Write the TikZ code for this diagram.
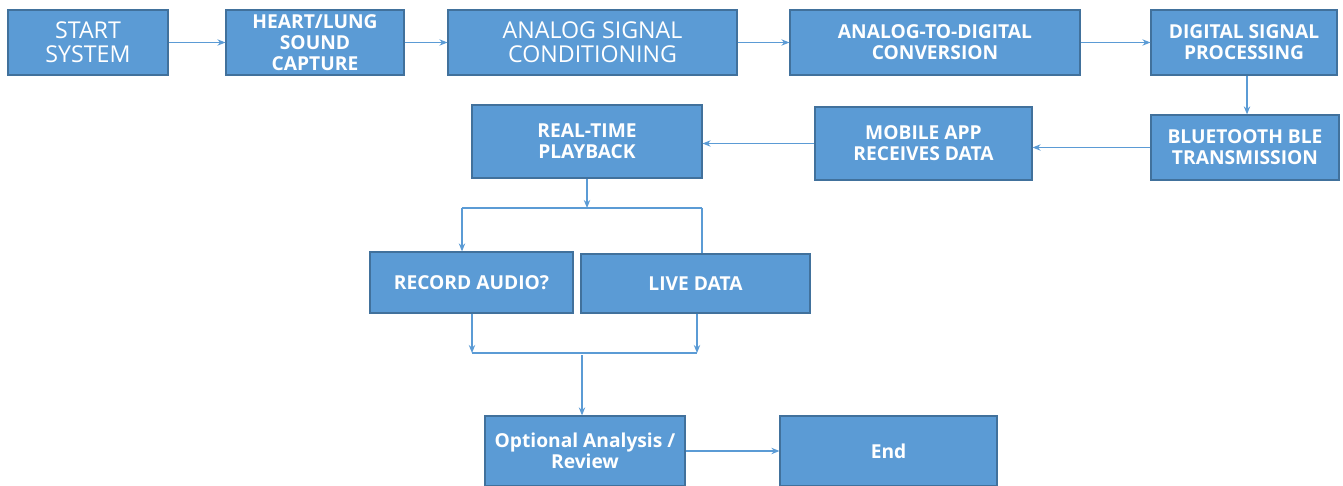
\documentclass[tikz,border=0pt]{standalone}
\usepackage{fontspec}
\setmainfont{Open Sans}
\usetikzlibrary{arrows.meta}
\definecolor{boxblue}{HTML}{5B9BD5}
\definecolor{edgeblue}{HTML}{41719C}

\begin{document}
\begin{tikzpicture}[x=0.5pt, y=-0.5pt,
  box/.style={draw=edgeblue, line width=0.6pt, fill=boxblue, text=white,
    align=center, inner sep=1pt, minimum height=32.5pt},
  lightbox/.style={box, font=\fontsize{11.6}{12.2}\selectfont},
  boldbox/.style={box, font=\fontsize{9.6}{10.6}\selectfont\bfseries},
  link/.style={draw=boxblue, line width=0.6pt},
  arrow/.style={link, -{Stealth[length=4pt, width=3.2pt]}}]
  \useasboundingbox (0,0) rectangle (1343,486);

  \node[lightbox, minimum width=80pt] (start) at (88,42.5) {START\\SYSTEM};
  \node[boldbox, minimum width=89pt] (capture) at (315,42.5) {HEART/LUNG\\SOUND\\CAPTURE};
  \node[lightbox, minimum width=144.5pt] (cond) at (592.5,42.5) {ANALOG SIGNAL\\CONDITIONING};
  \node[boldbox, minimum width=145pt] (adc) at (935,42.5) {ANALOG-TO-DIGITAL\\CONVERSION};
  \node[boldbox, minimum width=93pt] (dsp) at (1244,42.5) {DIGITAL SIGNAL\\PROCESSING};
  \node[boldbox, minimum width=94pt] (ble) at (1245,147.5) {BLUETOOTH BLE\\TRANSMISSION};
  \node[boldbox, minimum width=108.5pt, minimum height=36.5pt] (app) at (923.5,143.5) {MOBILE APP\\RECEIVES DATA};
  \node[boldbox, minimum width=115pt, minimum height=36.5pt] (play) at (587,141.5) {REAL-TIME\\PLAYBACK};
  \node[boldbox, minimum width=101.5pt, minimum height=30.5pt] (record) at (471.5,282.5) {RECORD AUDIO?};
  \node[boldbox, minimum width=114.5pt, minimum height=29.5pt] (live) at (695.5,283.5) {LIVE DATA};
  \node[boldbox, minimum width=100pt, minimum height=35pt] (review) at (585,451) {Optional Analysis /\\Review};
  \node[boldbox, minimum width=108.5pt, minimum height=35pt] (end) at (888.5,451) {End};

  \coordinate (split) at (587,208);
  \coordinate (splitL) at (462,208);
  \coordinate (splitR) at (702,208);
  \coordinate (joinL) at (472,353);
  \coordinate (joinR) at (697,353);
  \coordinate (join) at (582,355);

  \draw[arrow] (start) -- (capture);
  \draw[arrow] (capture) -- (cond);
  \draw[arrow] (cond) -- (adc);
  \draw[arrow] (adc) -- (dsp);
  \draw[arrow] ([xshift=1.5pt]dsp.south) -- ([xshift=1pt]ble.north);
  \draw[arrow] (ble.west) -- (ble.west -| app.east);
  \draw[arrow] (app.west) -- (app.west -| play.east);
  \draw[arrow] (play.south) -- (split);
  \draw[link] (splitL) -- (splitR);
  \draw[arrow] (splitL) -- (splitL |- record.north);
  \draw[link] (splitR) -- (splitR |- live.north);
  \draw[arrow] (record.south -| joinL) -- (joinL);
  \draw[arrow] (live.south -| joinR) -- (joinR);
  \draw[link] (joinL) -- (joinR);
  \draw[arrow] (join) -- (join |- review.north);
  \draw[arrow] (review) -- (end);
\end{tikzpicture}
\end{document}
